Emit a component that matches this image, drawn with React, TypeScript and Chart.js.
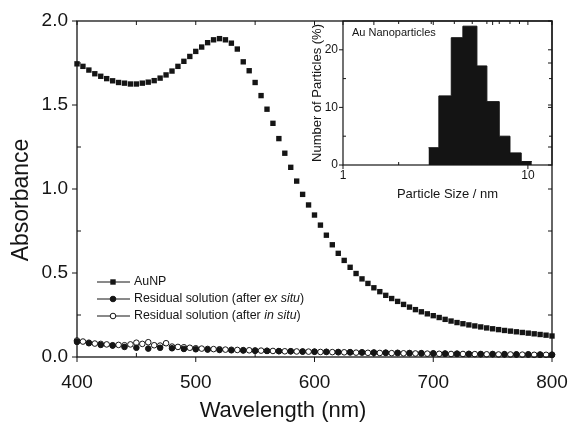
import React, { useEffect, useRef } from "react";
import { Chart, registerables } from "chart.js";
Chart.register(...registerables);

const FONT = "'Liberation Sans', Arial, Helvetica, sans-serif";

// ---- main spectrum data ----
const wavelengths = [
  400, 405, 410, 415, 420, 425, 430, 435, 440, 445, 450, 455, 460, 465, 470, 475, 480, 485, 490, 495,
  500, 505, 510, 515, 520, 525, 530, 535, 540, 545, 550, 555, 560, 565, 570, 575, 580, 585, 590, 595,
  600, 605, 610, 615, 620, 625, 630, 635, 640, 645, 650, 655, 660, 665, 670, 675, 680, 685, 690, 695,
  700, 705, 710, 715, 720, 725, 730, 735, 740, 745, 750, 755, 760, 765, 770, 775, 780, 785, 790, 795, 800,
];
const aunpAbs = [
  1.745, 1.73, 1.708, 1.686, 1.671, 1.657, 1.644, 1.634, 1.63, 1.625, 1.625, 1.63, 1.636, 1.645, 1.66, 1.679, 1.702, 1.73, 1.76, 1.789,
  1.819, 1.845, 1.871, 1.888, 1.895, 1.888, 1.868, 1.833, 1.757, 1.704, 1.634, 1.556, 1.475, 1.391, 1.3, 1.213, 1.129, 1.047, 0.968, 0.905,
  0.845, 0.785, 0.725, 0.668, 0.617, 0.575, 0.534, 0.497, 0.465, 0.438, 0.412, 0.389, 0.367, 0.348, 0.331, 0.313, 0.297, 0.282, 0.269, 0.257,
  0.246, 0.235, 0.224, 0.214, 0.205, 0.198, 0.191, 0.185, 0.179, 0.173, 0.168, 0.163, 0.158, 0.154, 0.15, 0.146, 0.142, 0.138, 0.134, 0.13, 0.125,
];
const exSituWl = [
  400, 410, 420, 430, 440, 450, 460, 470, 480, 490, 500, 510, 520, 530, 540, 550, 560, 570, 580, 590,
  600, 610, 620, 630, 640, 650, 660, 670, 680, 690, 700, 710, 720, 730, 740, 750, 760, 770, 780, 790, 800,
];
const exSituAbs = [
  0.09, 0.082, 0.072, 0.068, 0.06, 0.055, 0.05, 0.055, 0.052, 0.048, 0.046, 0.044, 0.042, 0.04, 0.039, 0.037, 0.036, 0.035, 0.034, 0.033,
  0.032, 0.031, 0.03, 0.029, 0.028, 0.027, 0.026, 0.025, 0.024, 0.023, 0.022, 0.021, 0.02, 0.019, 0.018, 0.018, 0.017, 0.016, 0.016, 0.015, 0.014,
];
const inSituAbs = [
  0.098, 0.092, 0.085, 0.08, 0.078, 0.075, 0.07, 0.072, 0.07, 0.075, 0.085, 0.078, 0.088, 0.07, 0.068, 0.082, 0.062, 0.06, 0.058, 0.055,
  0.052, 0.05, 0.048, 0.047, 0.046, 0.044, 0.043, 0.042, 0.041, 0.04, 0.039, 0.038, 0.037, 0.036, 0.035, 0.034, 0.034, 0.033, 0.032, 0.032,
  0.031, 0.03, 0.03, 0.029, 0.028, 0.028, 0.027, 0.026, 0.026, 0.025, 0.025, 0.024, 0.024, 0.023, 0.023, 0.022, 0.022, 0.021, 0.021, 0.02,
  0.02, 0.019, 0.019, 0.018, 0.018, 0.018, 0.017, 0.017, 0.016, 0.016, 0.016, 0.015, 0.015, 0.015, 0.014, 0.014, 0.014, 0.013, 0.013, 0.013, 0.012,
];
const xTickValues = [400, 500, 600, 700, 800];
const xMinorValues = [450, 550, 650, 750];
const yTickValues = [0, 0.5, 1.0, 1.5, 2.0];
const yMinorValues = [0.25, 0.75, 1.25, 1.75];
const xTitle = "Wavelength (nm)";
const yTitle = "Absorbance";

// ---- inset histogram data ----
const binEdges = [2.9, 3.3, 3.85, 4.45, 5.3, 6.0, 7.0, 8.0, 9.2, 10.5];
const binPercents = [3.0, 12.0, 22.1, 24.1, 17.2, 11.0, 5.0, 2.1, 0.6];
const insetXTicks = [1, 10];
const insetXMinor = [2, 3, 4, 5, 6, 7, 8, 9];
const insetYTicks = [0, 10, 20];
const insetYMinor = [5, 15];

const legendItems = [
  { marker: "rect", pre: "AuNP", it: "", post: "" },
  { marker: "filled", pre: "Residual solution (after ", it: "ex situ", post: ")" },
  { marker: "open", pre: "Residual solution (after ", it: "in situ", post: ")" },
];

const INK = "#151515";

const fixX = (h: number) => (s: any) => { s.height = h; s.paddingLeft = 0; s.paddingRight = 0; };
const fixY = (w: number) => (s: any) => { s.width = w; s.paddingTop = 0; s.paddingBottom = 0; };

const mainFramePlugin = {
  id: "mainFrame",
  afterDatasetsDraw(chart: any) {
    const { ctx, chartArea: a, scales } = chart;
    const x = scales.x, y = scales.y;
    ctx.save();
    ctx.strokeStyle = INK;
    ctx.lineWidth = 1.3;
    ctx.strokeRect(a.left, a.top, a.right - a.left, a.bottom - a.top);
    ctx.lineWidth = 1;
    ctx.beginPath();
    for (const v of xTickValues) {
      const p = x.getPixelForValue(v);
      ctx.moveTo(p, a.bottom); ctx.lineTo(p, a.bottom + 5);
      ctx.moveTo(p, a.top); ctx.lineTo(p, a.top + 4);
    }
    for (const v of xMinorValues) {
      const p = x.getPixelForValue(v);
      ctx.moveTo(p, a.bottom); ctx.lineTo(p, a.bottom - 4);
      ctx.moveTo(p, a.top); ctx.lineTo(p, a.top + 4);
    }
    for (const v of yTickValues) {
      const p = y.getPixelForValue(v);
      ctx.moveTo(a.left, p); ctx.lineTo(a.left - 5, p);
      ctx.moveTo(a.right, p); ctx.lineTo(a.right - 4, p);
    }
    for (const v of yMinorValues) {
      const p = y.getPixelForValue(v);
      ctx.moveTo(a.left, p); ctx.lineTo(a.left + 4, p);
      ctx.moveTo(a.right, p); ctx.lineTo(a.right - 4, p);
    }
    ctx.stroke();

    // axis titles
    ctx.fillStyle = INK;
    ctx.font = `22px ${FONT}`;
    ctx.textAlign = "center";
    ctx.textBaseline = "middle";
    ctx.fillText(xTitle, 283, 411);
    ctx.save();
    ctx.translate(22, 200);
    ctx.rotate(-Math.PI / 2);
    ctx.font = `23px ${FONT}`;
    ctx.fillText(yTitle, 0, 0);
    ctx.restore();
    ctx.textAlign = "left";

    // legend
    const rows = [282, 299, 316];
    const x0 = 97, x1 = 130, xm = 113, xt = 134;
    const fs = 12.4;
    legendItems.forEach((it, i) => {
      const yy = rows[i];
      ctx.strokeStyle = INK;
      ctx.lineWidth = 1;
      ctx.beginPath(); ctx.moveTo(x0, yy); ctx.lineTo(x1, yy); ctx.stroke();
      ctx.fillStyle = INK;
      if (it.marker === "rect") {
        ctx.fillRect(xm - 2.7, yy - 2.7, 5.4, 5.4);
      } else {
        ctx.beginPath(); ctx.arc(xm, yy, 2.8, 0, Math.PI * 2);
        ctx.fillStyle = it.marker === "filled" ? INK : "#fff";
        ctx.fill(); ctx.stroke();
      }
      ctx.fillStyle = INK;
      let cx = xt;
      ctx.font = `${fs}px ${FONT}`;
      ctx.fillText(it.pre, cx, yy); cx += ctx.measureText(it.pre).width;
      if (it.it) {
        ctx.font = `italic ${fs}px ${FONT}`;
        ctx.fillText(it.it, cx, yy); cx += ctx.measureText(it.it).width;
        ctx.font = `${fs}px ${FONT}`;
        ctx.fillText(it.post, cx, yy);
      }
    });
    ctx.restore();
  },
};

const insetFramePlugin = {
  id: "insetFrame",
  afterDatasetsDraw(chart: any) {
    const { ctx, chartArea: a, scales } = chart;
    const x = scales.x, y = scales.y;
    ctx.save();
    ctx.strokeStyle = INK;
    ctx.lineWidth = 1.2;
    ctx.strokeRect(a.left, a.top, a.right - a.left, a.bottom - a.top);
    ctx.lineWidth = 1;
    ctx.beginPath();
    for (const v of insetXTicks) {
      const p = x.getPixelForValue(v);
      ctx.moveTo(p, a.bottom); ctx.lineTo(p, a.bottom + 4);
      ctx.moveTo(p, a.top); ctx.lineTo(p, a.top + 4);
    }
    for (const v of insetXMinor) {
      const p = x.getPixelForValue(v);
      ctx.moveTo(p, a.bottom); ctx.lineTo(p, a.bottom - 3);
      ctx.moveTo(p, a.top); ctx.lineTo(p, a.top + 3);
    }
    for (const v of insetYTicks) {
      const p = y.getPixelForValue(v);
      ctx.moveTo(a.left, p); ctx.lineTo(a.left - 4, p);
      ctx.moveTo(a.right, p); ctx.lineTo(a.right - 4, p);
    }
    for (const v of insetYMinor) {
      const p = y.getPixelForValue(v);
      ctx.moveTo(a.left, p); ctx.lineTo(a.left + 3, p);
      ctx.moveTo(a.right, p); ctx.lineTo(a.right - 3, p);
    }
    ctx.stroke();
    ctx.fillStyle = INK;
    ctx.font = `11px ${FONT}`;
    ctx.textBaseline = "middle";
    ctx.fillText("Au Nanoparticles", a.left + 9, a.top + 12);
    ctx.restore();
  },
};

export default function App() {
  const mainRef = useRef<HTMLCanvasElement>(null);
  const insetRef = useRef<HTMLCanvasElement>(null);

  useEffect(() => {
    const tickFont = { family: FONT, size: 19 };
    const main = new Chart(mainRef.current as HTMLCanvasElement, {
      type: "scatter",
      data: {
        datasets: [
          {
            label: "Residual solution (after in situ)",
            data: wavelengths.map((w, i) => ({ x: w, y: inSituAbs[i] })),
            pointStyle: "circle",
            pointRadius: 2.8,
            backgroundColor: "#fff",
            borderColor: INK,
            borderWidth: 1,
            clip: false,
            order: 1,
          },
          {
            label: "Residual solution (after ex situ)",
            data: exSituWl.map((w, i) => ({ x: w, y: exSituAbs[i] })),
            pointStyle: "circle",
            pointRadius: 2.8,
            backgroundColor: INK,
            borderColor: INK,
            borderWidth: 1,
            clip: false,
            order: 0,
          },
          {
            label: "AuNP",
            data: wavelengths.map((w, i) => ({ x: w, y: aunpAbs[i] })),
            pointStyle: "rect",
            pointRadius: 3.8,
            backgroundColor: INK,
            borderColor: INK,
            borderWidth: 0,
            clip: false,
            order: 2,
          },
        ] as any,
      },
      options: {
        responsive: false,
        animation: false,
        events: [],
        layout: { padding: { top: 21, right: 17, left: 0, bottom: 0 } },
        plugins: { legend: { display: false }, tooltip: { enabled: false } },
        scales: {
          x: {
            type: "linear",
            min: 400,
            max: 800,
            afterFit: fixX(88),
            afterBuildTicks: (s: any) => { s.ticks = xTickValues.map((v) => ({ value: v })); },
            grid: { display: false, drawTicks: false },
            border: { display: false },
            ticks: { font: tickFont, color: INK, padding: 14, maxRotation: 0, callback: (v: any) => String(v) },
            title: { display: false },
          },
          y: {
            type: "linear",
            min: 0,
            max: 2,
            afterFit: fixY(77),
            afterBuildTicks: (s: any) => { s.ticks = yTickValues.map((v) => ({ value: v })); },
            grid: { display: false, drawTicks: false },
            border: { display: false },
            ticks: { font: tickFont, color: INK, padding: 9, callback: (v: any) => Number(v).toFixed(1) },
            title: { display: false },
          },
        },
      } as any,
      plugins: [mainFramePlugin],
    });

    const insetFont = { family: FONT, size: 12 };
    const insetTitleFont = { family: FONT, size: 13 };
    const histPoints = binEdges.map((e, i) => ({ x: e, y: binPercents[Math.min(i, binPercents.length - 1)] }));
    const inset = new Chart(insetRef.current as HTMLCanvasElement, {
      type: "line",
      data: {
        datasets: [
          {
            label: "Size distribution",
            data: histPoints,
            stepped: "before",
            fill: "origin",
            backgroundColor: "#141414",
            borderColor: "#141414",
            borderWidth: 1,
            pointRadius: 0,
          },
        ] as any,
      },
      options: {
        responsive: false,
        animation: false,
        events: [],
        layout: { padding: { top: 21, right: 17, left: 0, bottom: 0 } },
        plugins: { legend: { display: false }, tooltip: { enabled: false } },
        scales: {
          x: {
            type: "logarithmic",
            min: 1,
            max: 13.5,
            afterFit: fixX(50),
            afterBuildTicks: (s: any) => { s.ticks = insetXTicks.map((v) => ({ value: v })); },
            grid: { display: false, drawTicks: false },
            border: { display: false },
            ticks: { font: insetFont, color: INK, padding: 3, maxRotation: 0, callback: (v: any) => String(v) },
            title: { display: true, text: "Particle Size / nm", font: insetTitleFont, color: INK, padding: { top: 0, bottom: 13 } },
          },
          y: {
            type: "linear",
            min: 0,
            max: 25,
            afterFit: fixY(53),
            afterBuildTicks: (s: any) => { s.ticks = insetYTicks.map((v) => ({ value: v })); },
            grid: { display: false, drawTicks: false },
            border: { display: false },
            ticks: { font: insetFont, color: INK, padding: 5, callback: (v: any) => String(v) },
            title: { display: true, text: "Number of Particles (%)", font: insetTitleFont, color: INK, padding: { top: 20, bottom: 0 } },
          },
        },
      } as any,
      plugins: [insetFramePlugin],
    });

    return () => {
      main.destroy();
      inset.destroy();
    };
  }, []);

  return (
    <div style={{ position: "fixed", left: 0, top: 0, width: 569, height: 445, background: "#fff" }}>
      <canvas ref={mainRef} width={569} height={445} style={{ position: "absolute", left: 0, top: 0 }} />
      <canvas ref={insetRef} width={279} height={215} style={{ position: "absolute", left: 290, top: 0 }} />
    </div>
  );
}
